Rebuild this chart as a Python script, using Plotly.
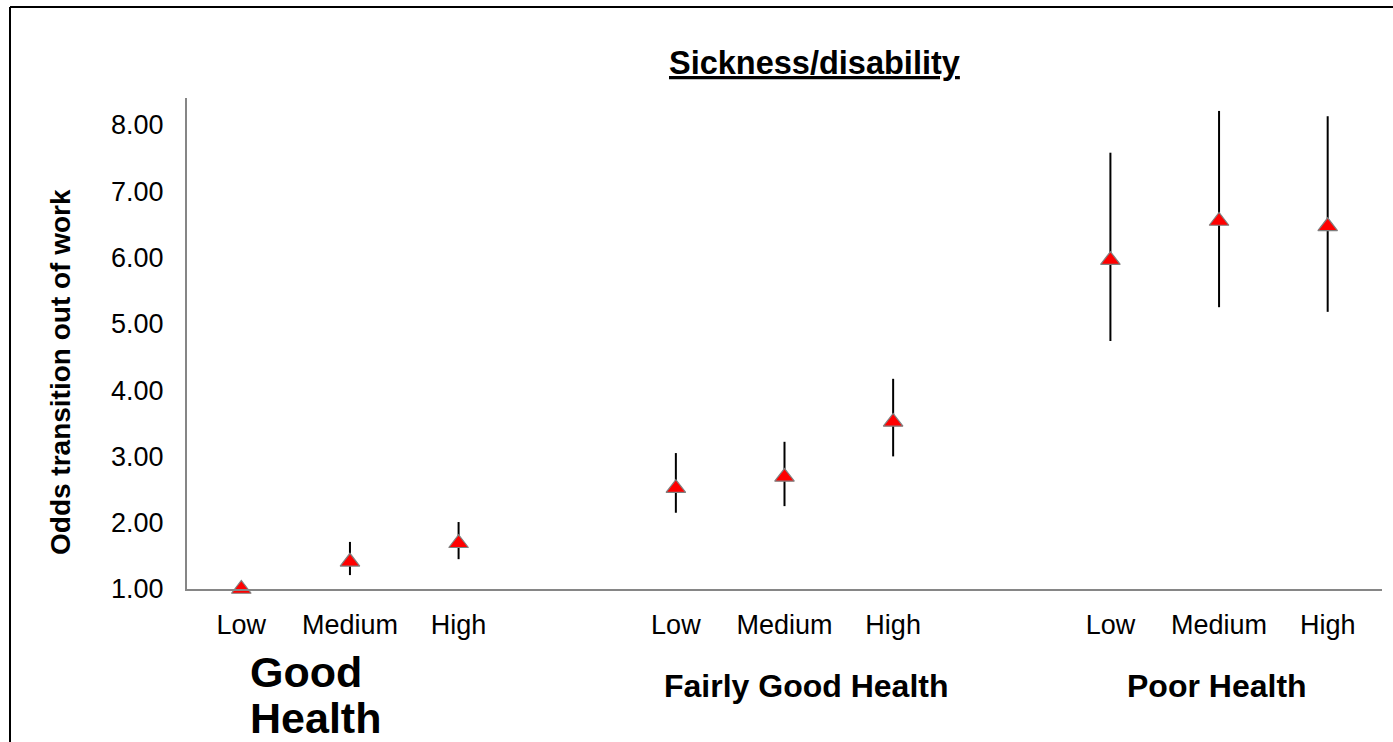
import plotly.graph_objects as go

# ---- data ----
groups = ["Good Health", "Fairly Good Health", "Poor Health"]
levels = ["Low", "Medium", "High"]
odds = [1.00, 1.41, 1.69, 2.52, 2.69, 3.52, 5.96, 6.55, 6.47]
lower = [1.00, 1.21, 1.45, 2.15, 2.25, 3.00, 4.74, 5.25, 5.18]
upper = [1.00, 1.71, 2.01, 3.05, 3.22, 4.17, 7.58, 8.21, 8.13]
y_ticks = [1, 2, 3, 4, 5, 6, 7, 8]
title_text = "Sickness/disability"
y_title = "Odds transition out of work"

# category slots: three per group with an empty slot between groups
xpos = []
xlabels = []
for g in range(len(groups)):
    for k, lv in enumerate(levels):
        xpos.append(g * 4 + k)
        xlabels.append(lv)

err_plus = [u - o for u, o in zip(upper, odds)]
err_minus = [o - l for o, l in zip(odds, lower)]

FONT = "Arial, Liberation Sans, sans-serif"

fig = go.Figure()
fig.add_trace(go.Scatter(
    x=xpos, y=odds, mode="markers",
    marker=dict(symbol="triangle-up", size=17, color="#ff0000",
                line=dict(color="#808080", width=1.2)),
    error_y=dict(type="data", symmetric=False, array=err_plus,
                 arrayminus=err_minus, color="black", thickness=2, width=0),
    cliponaxis=False, showlegend=False,
))

W, H = 1393, 742
L, R, T, B = 187, 11, 98, 153
pw, ph = W - L - R, H - T - B

def px(xp):
    return (xp - L) / pw

def py(yp):
    return (H - B - yp) / ph

good_words = groups[0].split(" ")

fig.update_layout(
    width=W, height=H,
    margin=dict(l=L, r=R, t=T, b=B, pad=0),
    paper_bgcolor="white", plot_bgcolor="white",
    font=dict(family=FONT, color="black"),
    xaxis=dict(range=[-0.5, 10.5], tickmode="array", tickvals=xpos,
               ticktext=xlabels, showgrid=False, zeroline=False,
               showline=True, linecolor="#868686", linewidth=2,
               ticks="", tickfont=dict(size=27, family=FONT),
               ticklabelstandoff=11),
    yaxis=dict(range=[1, 8.405], tickmode="array", tickvals=y_ticks,
               ticktext=[f"{v:.2f}" for v in y_ticks],
               showgrid=False, zeroline=False,
               showline=True, linecolor="#868686", linewidth=2,
               ticks="", tickfont=dict(size=27, family=FONT),
               ticklabelstandoff=16),
    annotations=[
        dict(text="<u><b>" + title_text + "</b></u>", xref="paper", yref="paper",
             x=px(814), y=py(63), showarrow=False, font=dict(size=32.5, family=FONT),
             xanchor="center", yanchor="middle"),
        dict(text="<b>" + y_title + "</b>", xref="paper", yref="paper",
             x=px(60), y=py(372), showarrow=False, textangle=-90,
             font=dict(size=28, family=FONT), xanchor="center", yanchor="middle"),
        dict(text="<b>" + good_words[0] + "</b>", xref="paper", yref="paper",
             x=px(248), y=py(672), showarrow=False, align="left",
             font=dict(size=43, family=FONT), xanchor="left", yanchor="middle"),
        dict(text="<b>" + good_words[1] + "</b>", xref="paper", yref="paper",
             x=px(248), y=py(718), showarrow=False, align="left",
             font=dict(size=43, family=FONT), xanchor="left", yanchor="middle"),
        dict(text="<b>" + groups[1] + "</b>", xref="paper", yref="paper",
             x=px(806), y=py(686), showarrow=False,
             font=dict(size=32, family=FONT), xanchor="center", yanchor="middle"),
        dict(text="<b>" + groups[2] + "</b>", xref="paper", yref="paper",
             x=px(1217), y=py(686), showarrow=False,
             font=dict(size=32, family=FONT), xanchor="center", yanchor="middle"),
    ],
    shapes=[
        dict(type="line", xref="paper", yref="paper", x0=px(10), x1=px(10),
             y0=py(7), y1=py(742), line=dict(color="black", width=2)),
        dict(type="line", xref="paper", yref="paper", x0=px(10), x1=px(1393),
             y0=py(7), y1=py(7), line=dict(color="black", width=2)),
    ],
)

fig.write_html("out.html")
